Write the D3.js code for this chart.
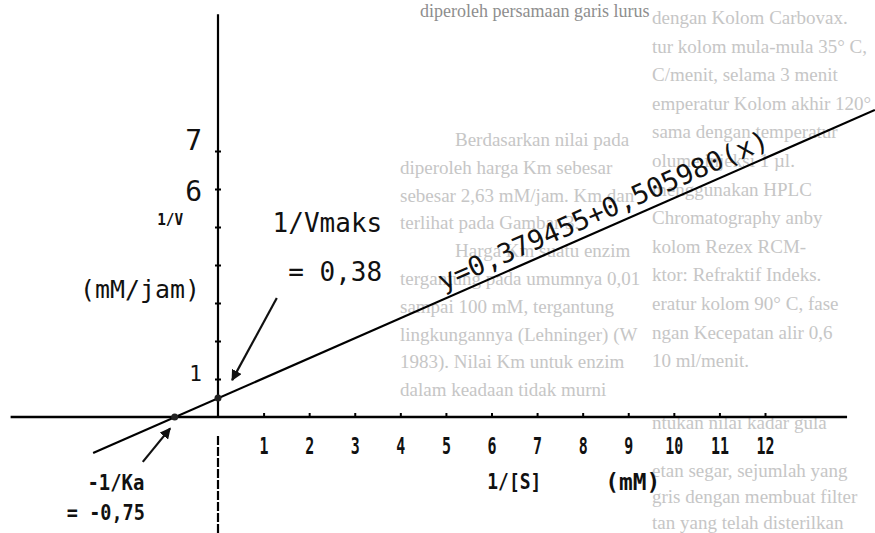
<!DOCTYPE html>
<html>
<head>
<meta charset="utf-8">
<script src="https://cdn.jsdelivr.net/npm/d3@7"></script>
<style>
  html, body { margin: 0; padding: 0; background: #fff; }
  #graph { width: 875px; height: 533px; }
</style>
</head>
<body>
<div id="graph"></div>
<script>
'use strict';

// axis ticks
const x_ticks = [1, 2, 3, 4, 5, 6, 7, 8, 9, 10, 11, 12];
const y_ticks = [1, 2, 3, 4, 5, 6, 7];
const y_tick_labels = { 1: '1', 6: '6', 7: '7' };

// the fitted line as it is drawn on the plot
const line_points = [{ x: -2.74, y: -0.95 }, { x: 14.41, y: 8.08 }];
const equation = 'y=0,379455+0,505980(x)';
// intercept markers on the line
const intercepts = [{ x: -0.95, y: 0 }, { x: 0, y: 0.5 }];

// axis titles and annotations
const x_title = ['1/[S]', '(mM)'];
const y_title = ['1/V', '(mM/jam)'];
const vmax_note = ['1/Vmaks', '= 0,38'];
const km_note = ['-1/Ka', '= -0,75'];

// faint text of the scanned page behind the figure (leading '>' = indented line)
const page_top = 'diperoleh persamaan garis lurus';
const page_middle = [
    '>Berdasarkan  nilai  pada',
    'diperoleh  harga  Km  sebesar',
    'sebesar 2,63 mM/jam. Km dan',
    'terlihat pada Gambar 3.',
    '>Harga Km suatu enzim',
    'tergantung pada umumnya 0,01',
    'sampai 100 mM, tergantung',
    'lingkungannya (Lehninger) (W',
    '1983). Nilai Km untuk enzim',
    'dalam keadaan tidak murni'
];
const page_right = [
    'dengan Kolom Carbovax.',
    'tur kolom mula-mula 35° C,',
    'C/menit, selama 3 menit',
    'emperatur Kolom akhir 120°',
    'sama dengan temperatur',
    'olume injeksi 1 µl.',
    'menggunakan HPLC',
    'Chromatography  anby',
    'kolom    Rezex   RCM-',
    'ktor:  Refraktif  Indeks.',
    'eratur  kolom  90° C,  fase',
    'ngan  Kecepatan  alir  0,6',
    '10 ml/menit.'
];
const page_right_low = [
    'ntukan nilai kadar gula',
    'etan segar, sejumlah yang',
    'gris dengan membuat filter',
    'tan yang telah disterilkan'
];

function plot() {
    const div = document.getElementById('graph');
    d3.select(div).selectAll('*').remove();

    const width = 875;
    const height = 533;
    const svg = d3.select(div)
          .append('svg')
          .attr('width', width)
          .attr('height', height);

    const x = d3.scaleLinear().domain([0, 12]).range([218, 765]);
    const y = d3.scaleLinear().domain([0, 7]).range([417, 151]);

    // background page text
    const page = svg.append('g')
        .attr('font-family', 'Liberation Serif')
        .attr('font-size', '19px')
        .attr('fill', '#c6c6c6');
    page.append('text')
        .attr('x', 420).attr('y', 17)
        .attr('fill', '#8e8e8e')
        .attr('font-size', '18px')
        .text(page_top);
    page.selectAll('text.mid')
        .data(page_middle)
        .join('text')
        .attr('class', 'mid')
        .attr('x', d => d.startsWith('>') ? 455 : 400)
        .attr('y', (d, i) => 146 + i * 27.8)
        .text(d => d.replace('>', ''));
    page.selectAll('text.right')
        .data(page_right)
        .join('text')
        .attr('class', 'right')
        .attr('x', 652)
        .attr('y', (d, i) => 24 + i * 28.6)
        .text(d => d);
    page.selectAll('text.low')
        .data(page_right_low)
        .join('text')
        .attr('class', 'low')
        .attr('x', 652)
        .attr('y', (d, i) => i ? 451 + i * 26 : 429)
        .text(d => d);

    const mono = 'DejaVu Sans Mono';

    // x axis
    svg.append('line')
        .attr('x1', x(-4.55)).attr('x2', x(13.8))
        .attr('y1', y(0)).attr('y2', y(0))
        .attr('stroke', 'black')
        .attr('stroke-width', 2.6);

    const gx = svg.append('g')
        .attr('transform', `translate(0,${y(0)})`)
        .call(d3.axisBottom(x).tickValues(x_ticks).tickSize(-4).tickSizeOuter(0).tickPadding(21));
    gx.select('.domain').remove();
    gx.selectAll('.tick line').attr('stroke-width', 2);
    gx.selectAll('.tick text')
        .attr('font-family', mono)
        .attr('font-size', '23px')
        .attr('font-weight', 'bold')
        .attr('fill', '#111')
        .attr('textLength', d => String(d).length * 9)
        .attr('lengthAdjust', 'spacingAndGlyphs');

    // y axis, solid above the x axis and broken below it
    svg.append('line')
        .attr('x1', x(0)).attr('x2', x(0))
        .attr('y1', y(10.6)).attr('y2', y(0))
        .attr('stroke', 'black')
        .attr('stroke-width', 2.2);
    svg.append('line')
        .attr('x1', x(0)).attr('x2', x(0))
        .attr('y1', y(-0.5)).attr('y2', height)
        .attr('stroke', 'black')
        .attr('stroke-width', 2.2)
        .attr('stroke-dasharray', '9,2');

    const gy = svg.append('g')
        .attr('transform', `translate(${x(0)},0)`)
        .call(d3.axisLeft(y).tickValues(y_ticks).tickSize(3).tickSizeOuter(0).tickPadding(13)
              .tickFormat(d => y_tick_labels[d] || ''));
    gy.select('.domain').remove();
    gy.selectAll('.tick line').attr('x1', 3).attr('stroke-width', 2);
    gy.selectAll('.tick text')
        .attr('font-family', mono)
        .attr('fill', '#111')
        .attr('font-size', d => d === 1 ? '21px' : '28px')
        .attr('dy', d => d === 7 ? '-0.05em' : (d === 1 ? '0.05em' : '0.4em'));

    // the fitted line
    const line = d3.line().x(d => x(d.x)).y(d => y(d.y));
    svg.append('path')
        .datum(line_points)
        .attr('d', line)
        .attr('fill', 'none')
        .attr('stroke', 'black')
        .attr('stroke-width', 2.2);

    svg.append('g')
        .selectAll('circle')
        .data(intercepts)
        .join('circle')
        .attr('cx', d => x(d.x))
        .attr('cy', d => y(d.y))
        .attr('r', 3.5)
        .attr('fill', '#222');

    // equation written along the line
    const p0 = line_points[0], p1 = line_points[1];
    const angle = Math.atan2(y(p1.y) - y(p0.y), x(p1.x) - x(p0.x)) * 180 / Math.PI;
    const ex = 8.6;
    const ey = p0.y + (ex - p0.x) * (p1.y - p0.y) / (p1.x - p0.x);
    svg.append('text')
        .attr('transform', `translate(${x(ex)},${y(ey)}) rotate(${angle})`)
        .attr('dy', -8)
        .attr('text-anchor', 'middle')
        .attr('font-family', mono)
        .attr('font-size', '27px')
        .attr('fill', '#111')
        .text(equation);

    // arrows
    svg.append('defs').append('marker')
        .attr('id', 'head')
        .attr('viewBox', '0 0 10 10')
        .attr('refX', 9).attr('refY', 5)
        .attr('markerWidth', 5).attr('markerHeight', 5)
        .attr('orient', 'auto')
        .append('path')
        .attr('d', 'M0,0L10,5L0,10z')
        .attr('fill', '#111');

    const arrows = [
        [{ x: 1.29, y: 3.13 }, { x: 0.31, y: 0.97 }],
        [{ x: -1.65, y: -1.18 }, { x: -1.05, y: -0.3 }]
    ];
    svg.append('g')
        .selectAll('path')
        .data(arrows)
        .join('path')
        .attr('d', line)
        .attr('fill', 'none')
        .attr('stroke', '#111')
        .attr('stroke-width', 2.2)
        .attr('marker-end', 'url(#head)');

    // labels: [text, x, y, font size, width]
    const notes = [
        [vmax_note[0], 2.4, 5.1, 26, null],
        [vmax_note[1], 2.57, 3.82, 26, null],
        [km_note[0], -2.24, -1.74, 21, 57],
        [km_note[1], -2.46, -2.53, 21, 78],
        [x_title[0], 6.5, -1.71, 22, 54],
        [x_title[1], 9.1, -1.71, 23, 55],
        [y_title[0], -1.05, 5.18, 15, 26],
        [y_title[1], -1.71, 3.34, 24, 120]
    ];
    svg.append('g')
        .selectAll('text')
        .data(notes)
        .join('text')
        .attr('x', d => x(d[1]))
        .attr('y', d => y(d[2]))
        .attr('text-anchor', 'middle')
        .attr('dominant-baseline', 'central')
        .attr('font-family', mono)
        .attr('font-size', d => d[3] + 'px')
        .attr('font-weight', d => d[4] && d[0] !== y_title[1] ? 'bold' : null)
        .attr('fill', '#111')
        .attr('textLength', d => d[4])
        .attr('lengthAdjust', d => d[4] ? 'spacingAndGlyphs' : null)
        .text(d => d[0]);
}

window.onload = plot;
</script>
</body>
</html>
